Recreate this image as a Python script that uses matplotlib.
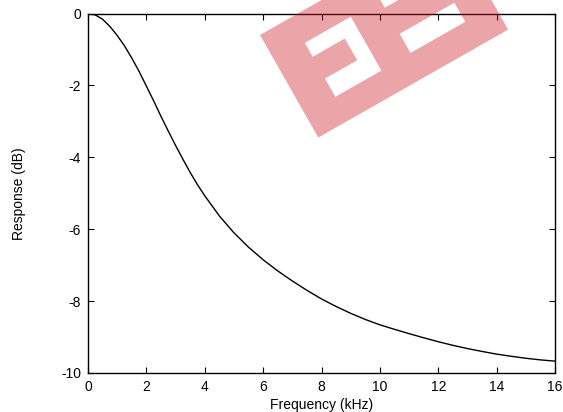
import numpy as np
import matplotlib
matplotlib.use('Agg')
import matplotlib.pyplot as plt
from matplotlib.path import Path
from matplotlib.patches import PathPatch

plt.rcParams['font.family'] = ['Liberation Sans', 'DejaVu Sans']
plt.rcParams['axes.unicode_minus'] = False

# Response curve
freq_khz = [0.0, 0.25, 0.5, 0.75, 1.0, 1.25, 1.5, 1.75, 2.0, 2.25, 2.5, 2.75,
            3.0, 3.25, 3.5, 3.75, 4.0, 4.5, 5.0, 5.5, 6.0, 6.5, 7.0, 7.5,
            8.0, 8.5, 9.0, 9.5, 10.0, 10.5, 11.0, 11.5, 12.0, 12.5, 13.0,
            13.5, 14.0, 14.5, 15.0, 15.5, 16.0]
response_db = [0.0, -0.04, -0.16, -0.36, -0.61, -0.90, -1.24, -1.61, -2.02, -2.43, -2.86, -3.27,
               -3.67, -4.05, -4.42, -4.76, -5.07, -5.63, -6.10, -6.50, -6.85, -7.16, -7.44, -7.70,
               -7.94, -8.15, -8.34, -8.51, -8.66, -8.785, -8.905, -9.02, -9.13, -9.23, -9.32,
               -9.40, -9.475, -9.535, -9.59, -9.635, -9.67]

x_ticks = [0, 2, 4, 6, 8, 10, 12, 14, 16]
y_ticks = [0, -2, -4, -6, -8, -10]

W, H = 563, 412
fig = plt.figure(figsize=(W / 100, H / 100), dpi=100)
ax = fig.add_axes([88 / W, (H - 373) / H, 467 / W, 359.5 / H])

ax.plot(freq_khz, response_db, color='black', lw=1.0)
ax.set_xlim(0, 16)
ax.set_ylim(-10, 0)
ax.set_xticks(x_ticks)
ax.set_yticks(y_ticks)
ax.tick_params(direction='in', length=4, width=0.8, top=True, right=True,
               labelsize=10, pad=5)
for s in ax.spines.values():
    s.set_linewidth(1.0)

ax.set_xlabel('Frequency (kHz)', fontsize=10)
ax.set_ylabel('Response (dB)', fontsize=10)
ax.xaxis.set_label_coords(0.5, -0.07)
ax.yaxis.set_label_coords(-0.133, 0.5)

# watermark logo: tilted rectangle with cut-out shapes
L = np.array([260.0, 35.0])
u_hat = np.array([0.869, -0.494])
v_hat = np.array([0.494, 0.869])


def to_fig(pts):
    out = []
    for u, v in pts:
        p = L + u * u_hat + v * v_hat
        out.append((p[0] / W, (H - p[1]) / H))
    return out


def area(pts):
    return 0.5 * sum(pts[i][0] * pts[i - 1][1] - pts[i - 1][0] * pts[i][1]
                     for i in range(len(pts)))


outer = [(0, 0), (0, 118), (218.5, 118), (218.5, 0)]
hole1 = [(35, 29), (35, 45), (72, 45), (72, 70), (35, 70), (35, 91), (88, 91), (88, 29)]
hole2 = [(122, 68), (185, 68), (185, 90), (122, 90)]
hole3 = [(122, 16), (185, 16), (185, 38), (122, 38)]

verts, codes = [], []
sign = None
for poly in [outer, hole1, hole2, hole3]:
    pts = to_fig(poly)
    a = area(pts)
    if sign is None:
        sign = a > 0
    elif (a > 0) == sign:
        # holes go the other way round
        pts = pts[::-1]
    verts += pts + [pts[0]]
    codes += [Path.MOVETO] + [Path.LINETO] * (len(pts) - 1) + [Path.CLOSEPOLY]

logo = PathPatch(Path(verts, codes), transform=fig.transFigure,
                 facecolor=(205 / 255, 30 / 255, 38 / 255), alpha=0.4,
                 edgecolor='none', zorder=10)
fig.patches.append(logo)

fig.savefig('out.png', dpi=100)
